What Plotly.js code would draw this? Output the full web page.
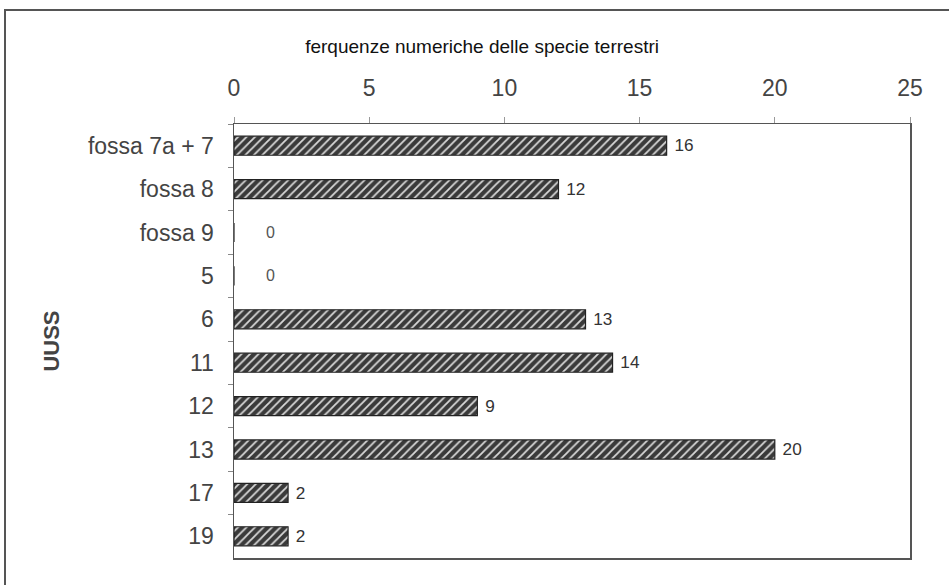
<!DOCTYPE html>
<html><head><meta charset="utf-8">
<script src="https://cdn.plot.ly/plotly-3.0.1.min.js"></script>
<style>
html,body{margin:0;padding:0;background:#fff;overflow:hidden;}
#frame{position:absolute;left:4px;top:9px;width:970px;height:620px;border:2px solid #555;box-sizing:border-box;}
#chart{position:absolute;left:0;top:0;width:949px;height:585px;}
</style></head>
<body>
<div id="frame"></div>
<div id="chart"></div>
<script>
const categories = ["fossa 7a + 7","fossa 8","fossa 9","5","6","11","12","13","17","19"];
const values = [16,12,0,0,13,14,9,20,2,2];
const xTicks = [0,5,10,15,20,25];
const chartTitle = "ferquenze numeriche delle specie terrestri";
const yTitle = "UUSS";

const FONT = 'Liberation Sans, Arial, sans-serif';
const zeroAnn = [];
values.forEach((v,i)=>{ if(v===0){ zeroAnn.push({x:v,y:i,xref:'x',yref:'y',text:String(v),showarrow:false,xanchor:'center',xshift:36,font:{family:FONT,size:16,color:'#555'}}); }});

const trace = {
  type:'bar', orientation:'h', y:categories, x:values,
  text: values.map(v=>v===0?'':'\u00a0'+String(v)), textposition:'outside', cliponaxis:false,
  textfont:{family:FONT,size:18,color:'#333'},
  width:0.44,
  marker:{color:'#333',line:{color:'#222',width:1.2},
    pattern:{shape:'/',fillmode:'replace',bgcolor:'#3a3a3a',fgcolor:'#d8d8d8',size:6,solidity:0.3}},
  hoverinfo:'none'
};
const layout = {
  width:949,height:585,
  margin:{l:234,r:39,t:124,b:27},
  paper_bgcolor:'rgba(0,0,0,0)',plot_bgcolor:'#fff',
  showlegend:false,
  title:{text:chartTitle,x:0.508,xanchor:'center',y:0.921,yanchor:'middle',font:{family:FONT,size:19,color:'#111'}},
  xaxis:{side:'top',range:[0,25],tickvals:xTicks,ticktext:xTicks.map(String),ticks:'outside',ticklen:6,tickcolor:'#999',
    ticklabelstandoff:11,
    showgrid:false,zeroline:false,showline:true,linecolor:'#555',linewidth:1.5,mirror:true,
    tickfont:{family:FONT,size:23,color:'#444'},fixedrange:true},
  yaxis:{type:'category',autorange:'reversed',ticks:'outside',tickson:'boundaries',ticklen:5,tickcolor:'#888',
    ticklabelstandoff:14,
    showgrid:false,zeroline:false,showline:true,linecolor:'#555',linewidth:1.5,mirror:true,
    tickfont:{family:FONT,size:23,color:'#444'},
    title:{text:yTitle,standoff:22,font:{family:FONT,size:22,color:'#444',weight:'bold'}},fixedrange:true},
  annotations:zeroAnn
};
Plotly.newPlot('chart',[trace],layout,{displayModeBar:false,staticPlot:true});
</script>
</body></html>
